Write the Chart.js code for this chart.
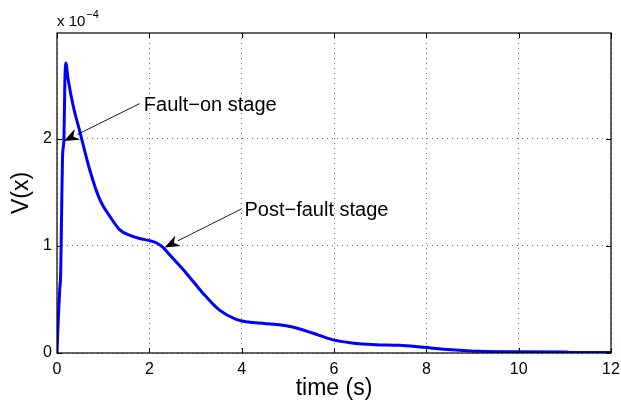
<!DOCTYPE html>
<html>
<head>
<meta charset="utf-8">
<script src="https://cdn.jsdelivr.net/npm/chart.js@4"></script>
<style>
html,body{margin:0;padding:0;background:#fff;}
#wrap{width:621px;height:407px;position:relative;}
</style>
</head>
<body>
<div id="wrap"><canvas id="c" width="621" height="407"></canvas></div>
<script>
const timeS = [0, 0.03, 0.06, 0.08, 0.10, 0.12, 0.15, 0.17, 0.19, 0.24, 0.35, 0.5, 0.71, 0.93, 1.14, 1.36, 1.58, 1.79, 2.0, 2.15, 2.3, 2.44, 2.8, 3.16, 3.52, 3.88, 4.24, 4.81, 5.1, 5.53, 5.96, 6.39, 6.9, 7.42, 7.94, 8.54, 9.14, 10, 11.03, 11.1, 12];
const vx = [0, 0.34, 0.6, 0.75, 1.31, 1.84, 2.0, 2.53, 2.71, 2.56, 2.31, 2.06, 1.71, 1.43, 1.28, 1.15, 1.10, 1.07, 1.05, 1.03, 0.985, 0.917, 0.746, 0.559, 0.40, 0.315, 0.284, 0.265, 0.243, 0.187, 0.125, 0.094, 0.078, 0.072, 0.053, 0.031, 0.016, 0.012, 0.01, 0.004, 0.004];
const xTicks = [0, 2, 4, 6, 8, 10, 12];
const yTicks = [0, 1, 2];
const annoText = ["Fault\u2212on stage", "Post\u2212fault stage"];
const annoTail = [[1.79, 2.33], [3.99, 1.345]];
const annoTip = [[0.15, 1.98], [2.33, 0.986]];
const annoLabel = [[1.88, 2.26], [4.06, 1.276]];

const FONT = "'Liberation Sans', Arial, sans-serif";

const extras = {
  id: 'extras',
  afterDraw(chart) {
    const ctx = chart.ctx;
    const a = chart.chartArea;
    const xs = chart.scales.x, ys = chart.scales.y;
    ctx.save();
    ctx.strokeStyle = '#000';
    ctx.lineWidth = 1.2;
    ctx.strokeRect(a.left, a.top, a.right - a.left, a.bottom - a.top);
    ctx.lineWidth = 1;
    ctx.beginPath();
    xTicks.forEach(t => {
      const px = Math.round(xs.getPixelForValue(t)) + 0.5;
      ctx.moveTo(px, a.bottom); ctx.lineTo(px, a.bottom - 5);
      ctx.moveTo(px, a.top); ctx.lineTo(px, a.top + 5);
    });
    yTicks.forEach(t => {
      const py = Math.round(ys.getPixelForValue(t)) + 0.5;
      ctx.moveTo(a.left, py); ctx.lineTo(a.left + 5, py);
      ctx.moveTo(a.right, py); ctx.lineTo(a.right - 5, py);
    });
    ctx.stroke();
    ctx.fillStyle = '#000';
    ctx.textBaseline = 'alphabetic';
    ctx.textAlign = 'left';
    ctx.font = '15px ' + FONT;
    ctx.fillText('x 10', a.left, 26);
    const w = ctx.measureText('x 10').width;
    ctx.font = '11px ' + FONT;
    ctx.fillText('\u22124', a.left + w + 1, 18);
    ctx.font = '20px ' + FONT;
    for (let i = 0; i < annoText.length; i++) {
      const x1 = xs.getPixelForValue(annoTail[i][0]), y1 = ys.getPixelForValue(annoTail[i][1]);
      const x2 = xs.getPixelForValue(annoTip[i][0]), y2 = ys.getPixelForValue(annoTip[i][1]);
      const ang = Math.atan2(y2 - y1, x2 - x1);
      const L = 15, W = 6;
      const bx = x2 - L * Math.cos(ang), by = y2 - L * Math.sin(ang);
      ctx.strokeStyle = '#000';
      ctx.lineWidth = 0.9;
      ctx.beginPath(); ctx.moveTo(x1, y1); ctx.lineTo(bx, by); ctx.stroke();
      ctx.beginPath();
      ctx.moveTo(x2, y2);
      ctx.lineTo(bx + W * Math.sin(ang), by - W * Math.cos(ang));
      ctx.lineTo(x2 - (L * 0.7) * Math.cos(ang), y2 - (L * 0.7) * Math.sin(ang));
      ctx.lineTo(bx - W * Math.sin(ang), by + W * Math.cos(ang));
      ctx.closePath();
      ctx.fillStyle = '#000';
      ctx.fill();
      ctx.fillText(annoText[i], xs.getPixelForValue(annoLabel[i][0]), ys.getPixelForValue(annoLabel[i][1]));
    }
    ctx.restore();
  }
};

new Chart(document.getElementById('c'), {
  type: 'line',
  data: {
    datasets: [{
      data: timeS.map((t, i) => ({x: t, y: vx[i]})),
      borderColor: '#0000ff',
      borderWidth: 3,
      pointRadius: 0,
      fill: false,
      cubicInterpolationMode: 'monotone'
    }]
  },
  options: {
    responsive: false,
    animation: false,
    devicePixelRatio: 1,
    layout: {padding: {top: 33, right: 10, left: 0, bottom: 0}},
    plugins: {legend: {display: false}, tooltip: {enabled: false}},
    scales: {
      x: {
        type: 'linear', min: 0, max: 12,
        afterBuildTicks: s => { s.ticks = xTicks.map(v => ({value: v})); },
        afterFit: s => { s.height = 54; s.paddingRight = 0; s.paddingLeft = 0; },
        grid: {color: '#555', lineWidth: 0.8, drawTicks: false, tickLength: 0},
        border: {display: false, dash: [1, 4]},
        ticks: {color: '#000', font: {family: FONT, size: 16}, padding: 7, maxRotation: 0},
        title: {display: true, text: 'time (s)', color: '#000', font: {family: FONT, size: 23}, padding: {top: 0, bottom: 5}}
      },
      y: {
        type: 'linear', min: 0, max: 2.99,
        afterBuildTicks: s => { s.ticks = yTicks.map(v => ({value: v})); },
        afterFit: s => { s.width = 57; s.paddingTop = 0; s.paddingBottom = 0; },
        grid: {color: '#555', lineWidth: 0.8, drawTicks: false, tickLength: 0},
        border: {display: false, dash: [1, 4]},
        ticks: {color: '#000', font: {family: FONT, size: 16}, padding: 5},
        title: {display: true, text: 'V(x)', color: '#000', font: {family: FONT, size: 23}, padding: {top: 8, bottom: 0}}
      }
    }
  },
  plugins: [extras]
});
</script>
</body>
</html>
